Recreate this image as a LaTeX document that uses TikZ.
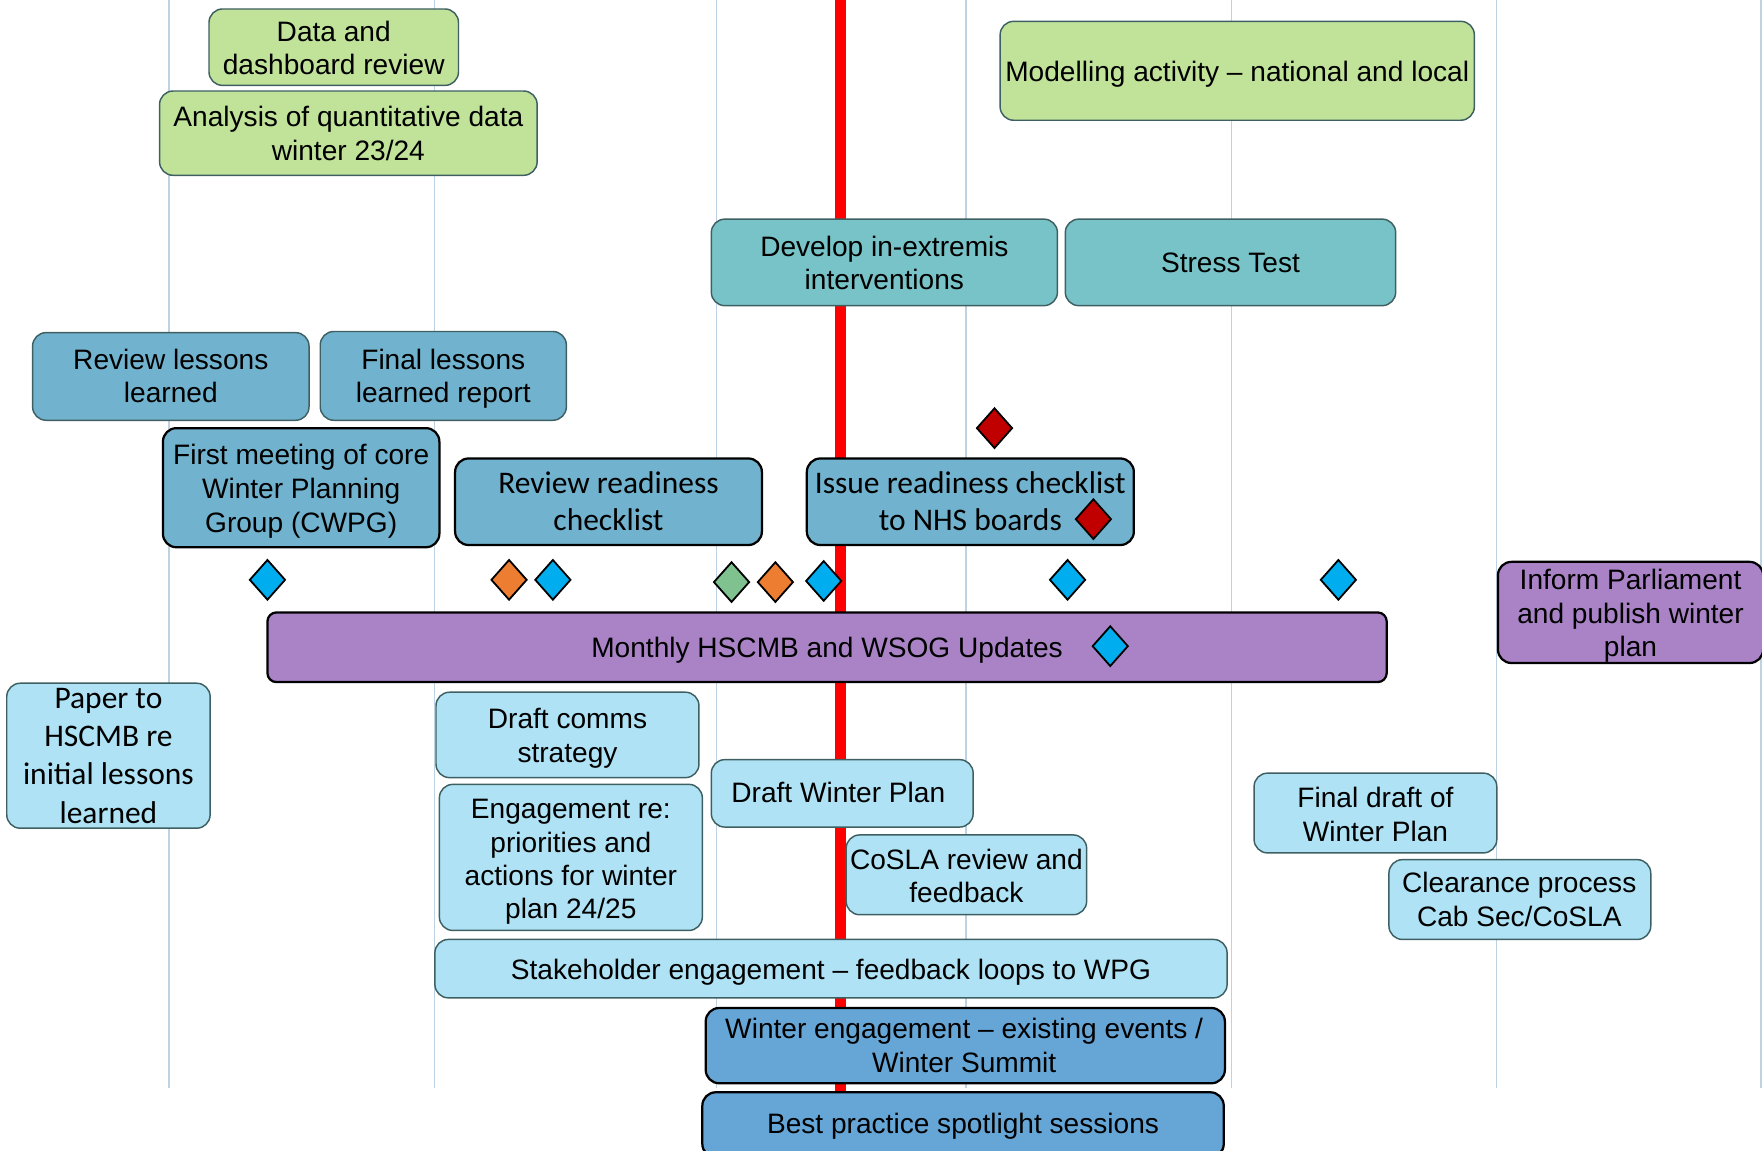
\documentclass[tikz,border=0pt]{standalone}
\usepackage{fontspec}
\setmainfont{Liberation Sans}
\newfontfamily\calib{Carlito}
\usetikzlibrary{shapes.geometric}
\definecolor{cgreen}{HTML}{C0E299}
\definecolor{cteal}{HTML}{78C3C7}
\definecolor{cbteal}{HTML}{71B2CE}
\definecolor{cpurple}{HTML}{A983C6}
\definecolor{clblue}{HTML}{AEE2F4}
\definecolor{cdblue}{HTML}{66A6D7}
\definecolor{dmblue}{HTML}{00AEEF}
\definecolor{dmorange}{HTML}{ED7D31}
\definecolor{dmgreen}{HTML}{7FC290}
\definecolor{dmred}{HTML}{C00000}
\definecolor{cgrid}{HTML}{BDD2E2}
\definecolor{edgegray}{HTML}{3F6062}
% #1 name prefix, #2 text style, #3 x, #4 first baseline, #5 line step, #6 comma-separated lines
\newcommand\tasklines[6]{%
  \foreach \ln [count=\k] in {#6} {%
    \node[#2, anchor=base] (#1-\k) at (#3,{#4+(\k-1)*#5}) {\ln};
  }%
}
\begin{document}
\begin{tikzpicture}[x=1pt,y=-1pt,
  box/.style={draw=edgegray, line width=1.3pt, rounded corners=12pt, inner sep=0pt},
  tx/.style={inner sep=0pt, font=\fontsize{25}{30}\selectfont},
  ctx/.style={inner sep=0pt, font=\calib\fontsize{28}{33.5}\selectfont},
  blackedge/.style={draw=black, line width=2pt},
  greenbox/.style={box, fill=cgreen},
  tealbox/.style={box, fill=cteal},
  bluetealbox/.style={box, fill=cbteal},
  purplebox/.style={box, fill=cpurple, blackedge},
  lightbox/.style={box, fill=clblue},
  darkbox/.style={box, fill=cdblue, blackedge},
  gridline/.style={draw=cgrid, line width=1.2pt},
  todayline/.style={draw=red, line width=10pt},
  milestone/.style={diamond, draw=black, line width=1.6pt, inner sep=0pt, minimum width=32pt, minimum height=36pt},
  mblue/.style={milestone, fill=dmblue},
  morange/.style={milestone, fill=dmorange},
  mgreen/.style={milestone, fill=dmgreen},
  mred/.style={milestone, fill=dmred}
]
\useasboundingbox (0,0) rectangle (1568,1024);
% grid lines
\foreach \gx [count=\i] in {150.5,386.5,637.5,859.5,1096,1332,1567} {
  \coordinate (gt\i) at (\gx,0);
  \coordinate (gb\i) at (\gx,968);
  \draw[gridline] (gt\i) -- (gb\i);
}
% today line
\coordinate (rt) at (748,0);
\coordinate (rb) at (748,1024);
\draw[todayline] (rt) -- (rb);

% green boxes
\node[greenbox, minimum width=222pt, minimum height=68pt] (data) at (297,42) {};
\tasklines{data}{tx}{297}{36.5}{30}{Data and,dashboard review}
\node[greenbox, minimum width=336pt, minimum height=75pt] (analysis) at (310,118.5) {};
\tasklines{analysis}{tx}{310}{112.5}{30}{Analysis of quantitative data,winter 23/24}
\node[greenbox, minimum width=422pt, minimum height=88pt] (model) at (1101,63) {};
\tasklines{model}{tx}{1101}{72.5}{30}{Modelling activity -- national and local}

% teal boxes
\node[tealbox, minimum width=308pt, minimum height=77pt] (develop) at (787,233.5) {};
\tasklines{develop}{tx}{787}{228.5}{29.5}{Develop in-extremis,interventions}
\node[tealbox, minimum width=294pt, minimum height=77pt] (stress) at (1095,233.5) {};
\tasklines{stress}{tx}{1095}{242.5}{30}{Stress Test}

% blue-teal boxes
\node[bluetealbox, minimum width=246pt, minimum height=78pt] (revlessons) at (152,335) {};
\tasklines{revlessons}{tx}{152}{328.5}{30}{Review lessons,learned}
\node[bluetealbox, minimum width=219pt, minimum height=79pt] (finlessons) at (394.5,334.5) {};
\tasklines{finlessons}{tx}{394.5}{328.5}{30}{Final lessons,learned report}
\node[bluetealbox, blackedge, minimum width=246pt, minimum height=106pt] (firstmeet) at (268,434) {};
\tasklines{firstmeet}{tx}{268}{413.5}{30}{First meeting of core,Winter Planning,Group (CWPG)}
\node[bluetealbox, blackedge, minimum width=273pt, minimum height=77pt] (revready) at (541.5,446.5) {};
\tasklines{revready}{ctx}{541.5}{439.5}{33}{Review readiness,checklist}
\node[bluetealbox, blackedge, minimum width=291pt, minimum height=77pt] (issue) at (863.5,446.5) {};
\tasklines{issue}{ctx}{863.5}{439.5}{33}{Issue readiness checklist,to NHS boards}

% purple boxes
\node[purplebox, rounded corners=8pt, minimum width=996pt, minimum height=62pt] (monthly) at (736,576) {};
\tasklines{monthly}{tx}{736}{585.5}{30}{Monthly HSCMB and WSOG Updates}
\node[purplebox, minimum width=236pt, minimum height=90pt] (inform) at (1451,545) {};
\tasklines{inform}{tx}{1451}{524.5}{30}{Inform Parliament,and publish winter,plan}

% light blue boxes
\node[lightbox, minimum width=181pt, minimum height=129pt] (paper) at (96.5,672.5) {};
\tasklines{paper}{ctx}{96.5}{630.5}{34}{Paper to,HSCMB re,initial lessons,learned}
\node[lightbox, minimum width=234pt, minimum height=76pt] (comms) at (505,654) {};
\tasklines{comms}{tx}{505}{648.5}{30}{Draft comms,strategy}
\node[lightbox, minimum width=234pt, minimum height=130pt] (engage) at (508,763) {};
\tasklines{engage}{tx}{508}{728.5}{29.7}{Engagement re:,priorities and,actions for winter,plan 24/25}
\node[lightbox, minimum width=233pt, minimum height=60pt] (draftwp) at (749.5,706) {};
\tasklines{draftwp}{tx}{746}{714.5}{30}{Draft Winter Plan}
\node[lightbox, minimum width=214pt, minimum height=71pt] (cosla) at (860,778.5) {};
\tasklines{cosla}{tx}{860}{773.5}{30}{CoSLA review and,feedback}
\node[lightbox, minimum width=216pt, minimum height=71pt] (finaldraft) at (1224,723.5) {};
\tasklines{finaldraft}{tx}{1224}{718.5}{30}{Final draft of,Winter Plan}
\node[lightbox, minimum width=233pt, minimum height=71pt] (clearance) at (1352.5,800.5) {};
\tasklines{clearance}{tx}{1352}{794.5}{30}{Clearance process,Cab Sec/CoSLA}
\node[lightbox, minimum width=705pt, minimum height=52pt] (stake) at (739.5,862) {};
\tasklines{stake}{tx}{739.5}{871.5}{30}{Stakeholder engagement -- feedback loops to WPG}

% dark blue boxes
\node[darkbox, minimum width=462pt, minimum height=67pt] (wintereng) at (859,930.5) {};
\tasklines{wintereng}{tx}{858}{924.5}{30}{Winter engagement -- existing events /,Winter Summit}
\node[darkbox, minimum width=464pt, minimum height=58pt] (best) at (857,1001) {};
\tasklines{best}{tx}{857}{1008.5}{30}{Best practice spotlight sessions}

% milestones
\node[mblue] (m1) at (238,516) {};
\node[morange] (m2) at (453,516) {};
\node[mblue] (m3) at (492,516) {};
\node[mgreen] (m4) at (651,518) {};
\node[morange] (m5) at (690,518) {};
\node[mblue] (m6) at (733,517) {};
\node[mblue] (m7) at (950,516) {};
\node[mblue] (m8) at (1191,516) {};
\node[mred] (m9) at (885,381) {};
\node[mred] (m10) at (973,462) {};
\node[mblue] (m11) at (988,575) {};
\end{tikzpicture}
\end{document}
